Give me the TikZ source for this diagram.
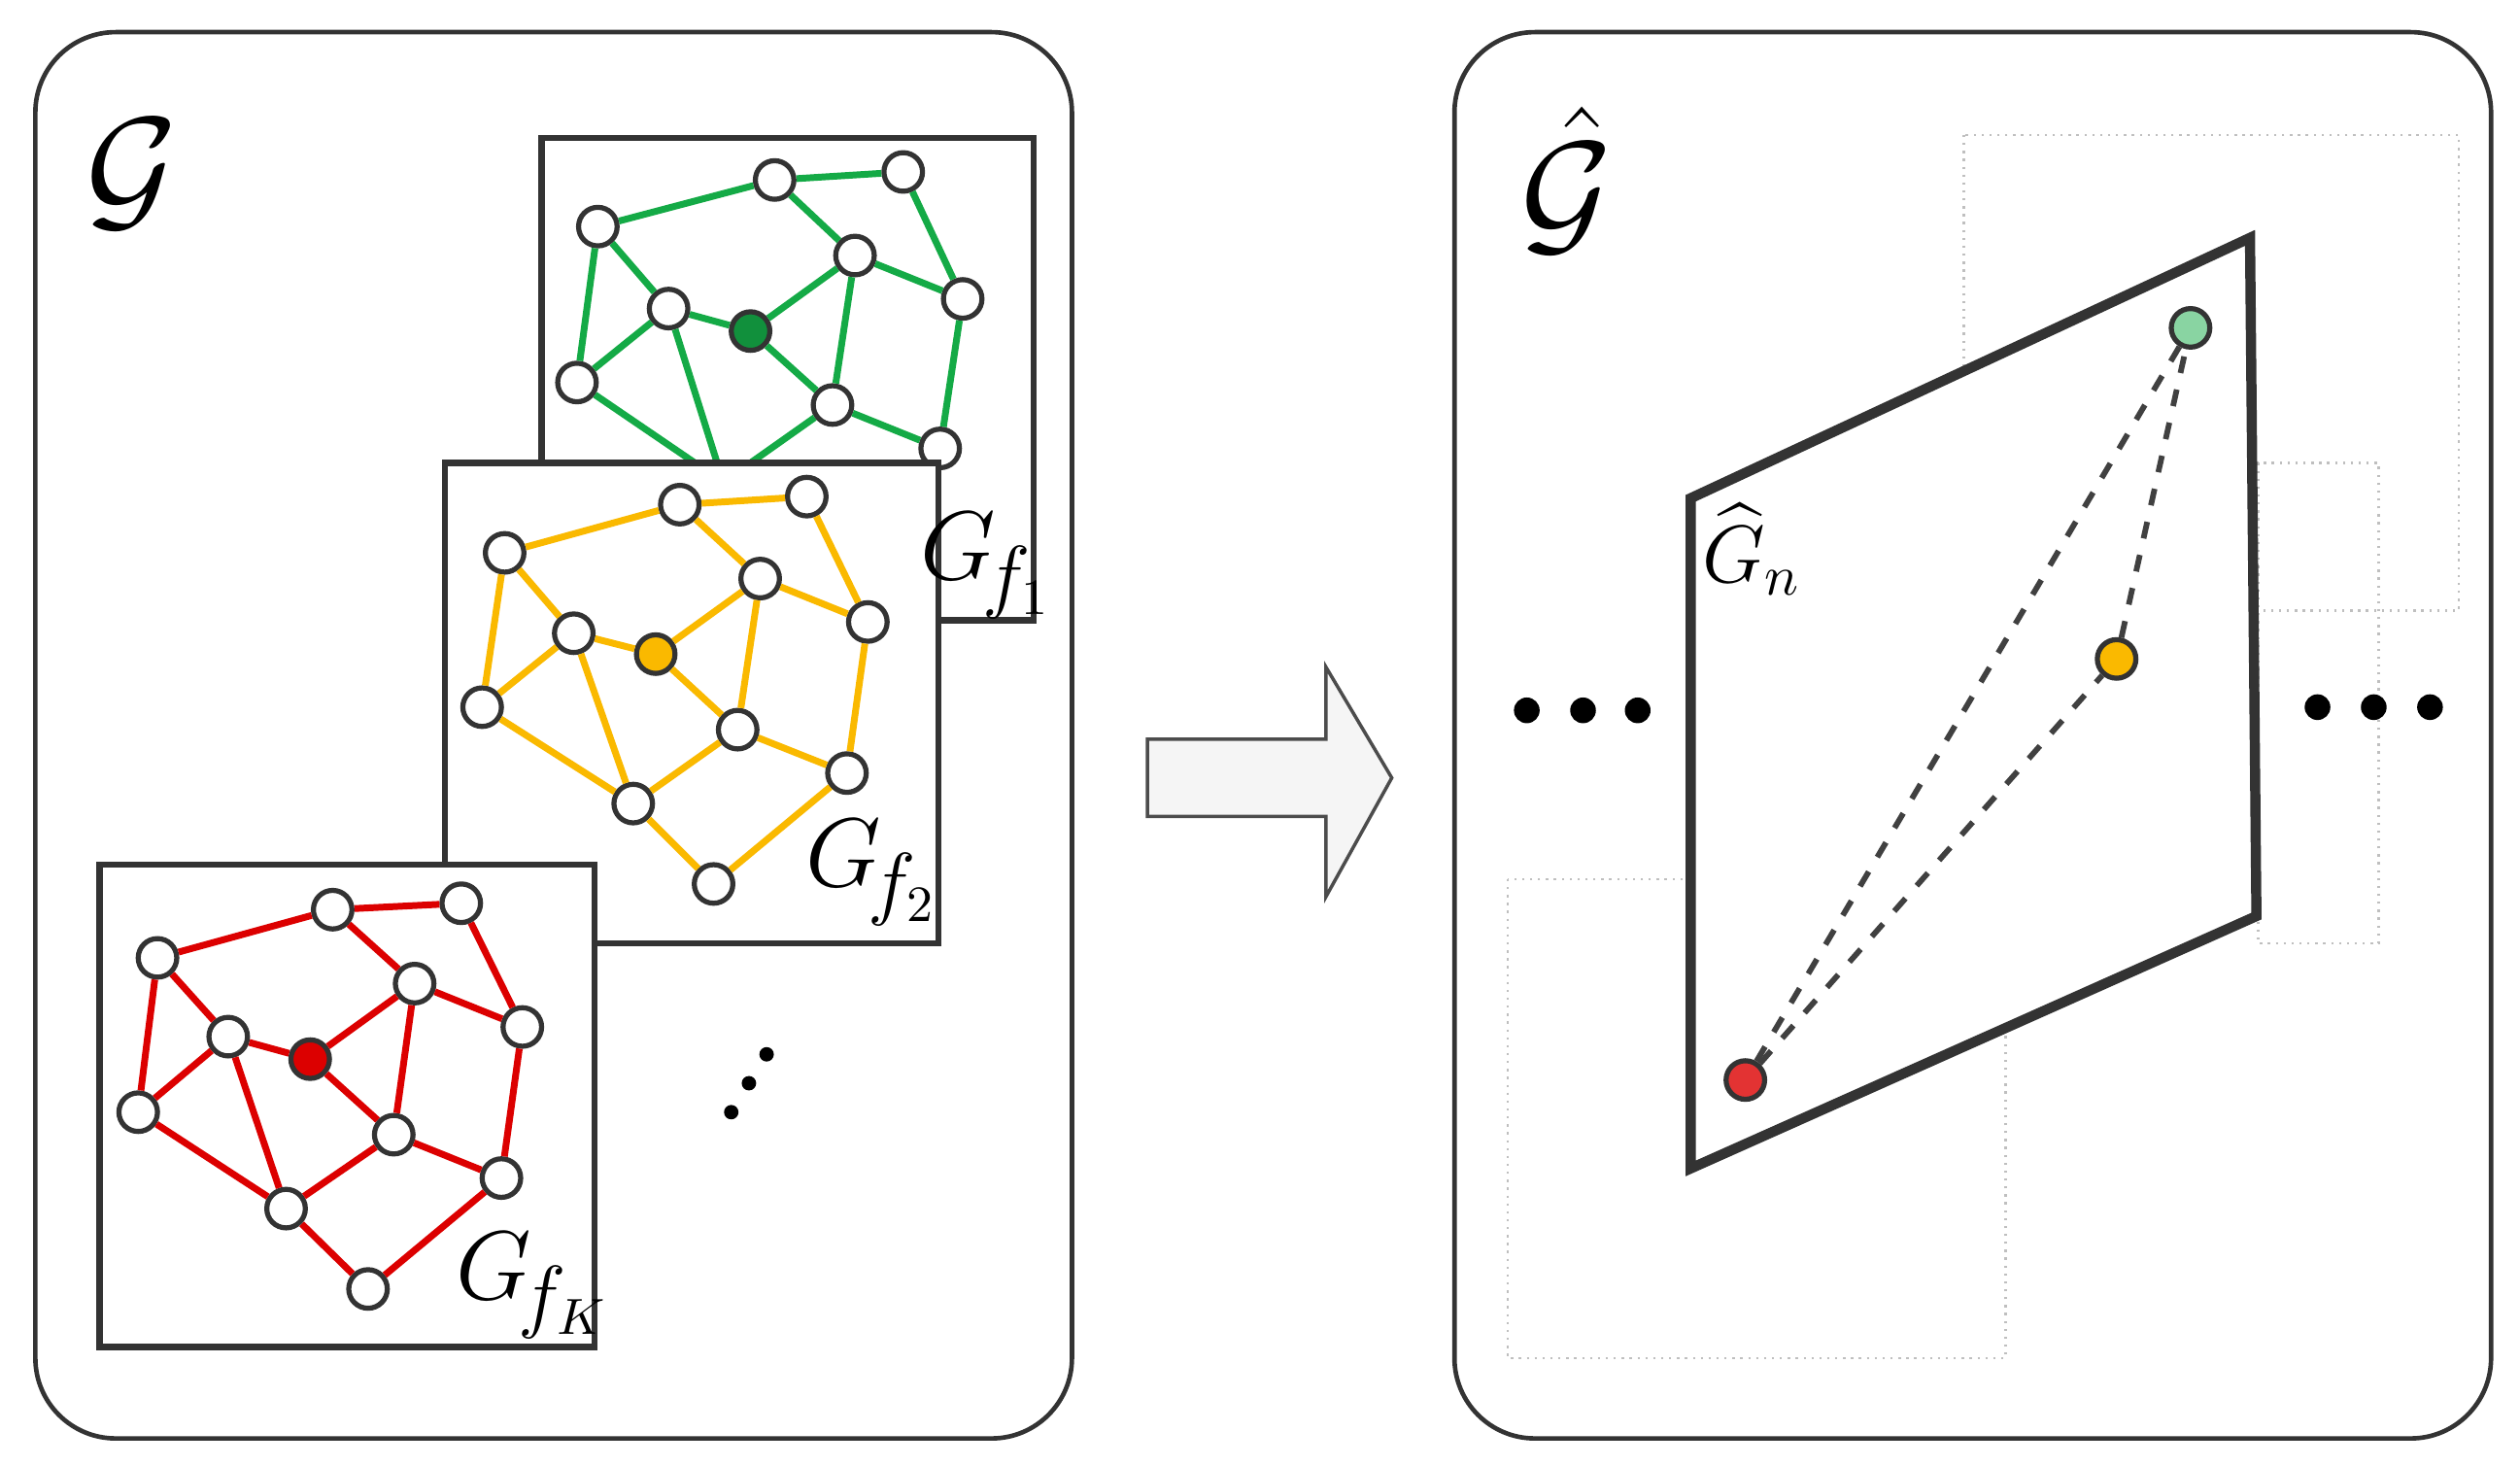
\documentclass[tikz,border=0pt]{standalone}
\usepackage{amsmath}
\usepackage{amssymb}
\usepackage{xcolor}
\usetikzlibrary{positioning}
\definecolor{ggreen}{RGB}{20,170,70}
\definecolor{gyellow}{RGB}{250,185,0}
\definecolor{gred}{RGB}{220,0,0}
\tikzset{
  vtx/.style={circle, draw=black!80, line width=0.9pt, fill=white, minimum size=2.4mm, inner sep=0pt},
  panel/.style={draw=black!80, line width=0.8pt, rounded corners=5mm},
  frame/.style={draw=black!80, line width=1.1pt, fill=white},
  edge/.style={line width=1.2pt},
  lbl/.style={font=\fontsize{19}{19}\selectfont, inner sep=0pt}
}
\begin{document}
\begin{tikzpicture}[x=0.1mm, y=-0.1mm]
        \useasboundingbox (0,0) rectangle (1568,912);
        \draw[panel] (22,20) rectangle (667,895);
        \draw[panel] (905,20) rectangle (1550,895);
        \node at (82,108) {\fontsize{72}{72}\selectfont$\mathcal{G}$};
        \node at (975,112) {\fontsize{72}{72}\selectfont$\hat{\mathcal{G}}$};

        % first graph
        \draw[frame] (337,86) rectangle (643,386);
        \node[vtx] (a1) at (482,112) {};
        \node[vtx] (b1) at (562,107) {};
        \node[vtx] (c1) at (372,141) {};
        \node[vtx] (d1) at (532,159) {};
        \node[vtx] (e1) at (599,186) {};
        \node[vtx] (f1) at (416,192) {};
        \node[vtx, fill=ggreen!85!black] (g1) at (467,206) {};
        \node[vtx] (h1) at (359,238) {};
        \node[vtx] (i1) at (518,252) {};
        \node[vtx] (j1) at (585,279) {};
        \node[vtx] (k1) at (450,300) {};
        \foreach \u/\v in {c1/a1,a1/b1,b1/e1,a1/d1,d1/e1,c1/f1,f1/g1,g1/d1,d1/i1,g1/i1,f1/k1,c1/h1,h1/f1,h1/k1,i1/k1,i1/j1,e1/j1}
          \draw[edge, ggreen] (\u) -- (\v);

        % second graph
        \draw[frame] (277,288) rectangle (584,587);
        \node[vtx] (a2) at (423,314) {};
        \node[vtx] (b2) at (502,309) {};
        \node[vtx] (c2) at (314,344) {};
        \node[vtx] (d2) at (473,360) {};
        \node[vtx] (e2) at (540,387) {};
        \node[vtx] (f2) at (357,394) {};
        \node[vtx, fill=gyellow] (g2) at (408,407) {};
        \node[vtx] (h2) at (300,440) {};
        \node[vtx] (i2) at (459,454) {};
        \node[vtx] (j2) at (527,481) {};
        \node[vtx] (k2) at (394,500) {};
        \node[vtx] (l2) at (444,550) {};
        \foreach \u/\v in {c2/a2,a2/b2,b2/e2,a2/d2,d2/e2,c2/f2,f2/g2,g2/d2,d2/i2,g2/i2,f2/k2,c2/h2,h2/f2,h2/k2,i2/k2,i2/j2,e2/j2,j2/l2,k2/l2}
          \draw[edge, gyellow] (\u) -- (\v);

        % last graph
        \draw[frame] (62,538) rectangle (370,838);
        \node[vtx] (aK) at (207,566) {};
        \node[vtx] (bK) at (287,562) {};
        \node[vtx] (cK) at (98,596) {};
        \node[vtx] (dK) at (258,612) {};
        \node[vtx] (eK) at (325,639) {};
        \node[vtx] (fK) at (142,645) {};
        \node[vtx, fill=gred] (gK) at (193,659) {};
        \node[vtx] (hK) at (86,692) {};
        \node[vtx] (iK) at (245,706) {};
        \node[vtx] (jK) at (312,733) {};
        \node[vtx] (kK) at (178,752) {};
        \node[vtx] (lK) at (229,802) {};
        \foreach \u/\v in {cK/aK,aK/bK,bK/eK,aK/dK,dK/eK,cK/fK,fK/gK,gK/dK,dK/iK,gK/iK,fK/kK,cK/hK,hK/fK,hK/kK,iK/kK,iK/jK,eK/jK,jK/lK,kK/lK}
          \draw[edge, gred] (\u) -- (\v);
        \foreach \p in {(455,692),(466,674),(477,656)}
          \fill \p circle (4.5);

        % labels
        \node[lbl] at (614,352) {$G_{\!f_1}$};
        \node[lbl] at (543,543) {$G_{\!f_2}$};
        \node[lbl] at (332,800) {$G_{\!f_K}$};

        % arrow
        \draw[black!70, fill=black!4, line width=0.6pt]
          (714,460) -- (825,460) -- (825,415) -- (866,484) -- (825,558) -- (825,508) -- (714,508) -- cycle;

        % right panel
        \draw[black!25, densely dotted] (1222,84) rectangle (1530,380);
        \draw[black!25, densely dotted] (1405,288) rectangle (1480,587);
        \draw[black!25, densely dotted] (938,547) rectangle (1248,845);
        \draw[black!80, line width=1.8pt, fill=white] (1052,310) -- (1400,148) -- (1404,570) -- (1052,727) -- cycle;
        \node[font=\fontsize{14}{14}\selectfont, inner sep=0pt] at (1090,342) {$\widehat{G}_n$};
        \node[vtx, fill=ggreen!50] (gn) at (1363,204) {};
        \node[vtx, fill=gyellow] (yn) at (1317,410) {};
        \node[vtx, fill=gred!80] (rn) at (1086,672) {};
        \draw[dashed, line width=1pt, black!75] (rn) -- (gn);
        \draw[dashed, line width=1pt, black!75] (rn) -- (yn);
        \draw[dashed, line width=1pt, black!75] (yn) -- (gn);
        \foreach \x in {950,985,1019}
          \fill (\x,442) circle (8);
        \foreach \x in {1442,1477,1512}
          \fill (\x,440) circle (8);
\end{tikzpicture}
\end{document}
